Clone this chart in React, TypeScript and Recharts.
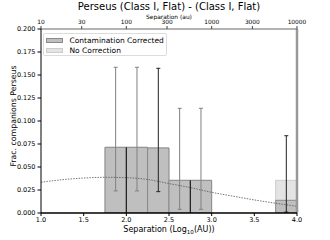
import React from 'react';
import { ComposedChart, Bar, Line, XAxis, YAxis, ErrorBar, ReferenceLine, Label } from 'recharts';

// histogram bins (log10 separation), bin width 0.25
const binCenters = [1.875, 2.125, 2.375, 2.625, 2.875, 3.875];
const fracCorrected = [0.0714, 0.0714, 0.0707, 0.0355, 0.0355, 0.0138];
const fracNoCorrection = [0.0714, 0.0714, 0.0707, 0.0355, 0.0355, 0.0355];
const errLow = [0.024, 0.024, 0.0232, 0.004, 0.004, 0.001];
const errHigh = [0.1584, 0.1584, 0.1573, 0.1138, 0.1138, 0.084];
const errIsDark = [false, false, true, false, false, true];

// dotted reference curve
const curveX = [1.0, 1.25, 1.5, 1.75, 2.0, 2.25, 2.5, 2.75, 3.0, 3.25, 3.5, 3.75, 4.0];
const curveY = [0.0334, 0.0362, 0.038, 0.0388, 0.0384, 0.0364, 0.032, 0.0276, 0.0225, 0.0183, 0.0142, 0.0106, 0.0072];

// dark bar edges
const edgeX = [2.0, 2.75];
const edgeTop = [0.0714, 0.0355];

const bottomTicks = [1.0, 1.5, 2.0, 2.5, 3.0, 3.5, 4.0];
const yTicks = [0, 0.025, 0.05, 0.075, 0.1, 0.125, 0.15, 0.175, 0.2];
const topTickLabels = [10, 30, 100, 300, 1000, 3000, 10000];

const FONT = '"DejaVu Sans", sans-serif';

const histData = binCenters.map((x, i) => ({
  x,
  v: fracCorrected[i],
  nc: fracNoCorrection[i],
  errGrey: errIsDark[i] ? null : [fracCorrected[i] - errLow[i], errHigh[i] - fracCorrected[i]],
  errDark: errIsDark[i] ? [fracCorrected[i] - errLow[i], errHigh[i] - fracCorrected[i]] : null,
}));
const curveData = curveX.map((x, i) => ({ x, y: curveY[i] }));
const topTicks = topTickLabels.map((t) => Math.log10(t));

const XLabel = (props: any) => {
  const vb = props.viewBox;
  const cx = vb.x + vb.width / 2;
  return (
    <text x={cx} y={vb.y + 18.5} textAnchor="middle" fontSize={8} fontFamily={FONT} fill="#000">
      Separation (Log
      <tspan fontSize={5.6} dy={2}>10</tspan>
      <tspan dy={-2}>(AU))</tspan>
    </text>
  );
};

const YLabel = (props: any) => {
  const vb = props.viewBox;
  const cx = 13;
  const cy = vb.y + vb.height / 2 - 5;
  return (
    <text x={cx} y={cy} transform={`rotate(-90 ${cx} ${cy})`} textAnchor="middle" dominantBaseline="central"
      fontSize={7.8} fontFamily={FONT} fill="#000">
      Frac. companions Perseus
    </text>
  );
};

const TopLabel = (props: any) => {
  const vb = props.viewBox;
  const cx = vb.x + vb.width / 2;
  return (
    <g>
      <text x={cx} y={10.3} textAnchor="middle" fontSize={10} fontFamily={FONT} fill="#000">
        Perseus (Class I, Flat) - (Class I, Flat)
      </text>
      <text x={cx} y={18.5} textAnchor="middle" fontSize={5.9} fontFamily={FONT} fill="#000">
        Separation (au)
      </text>
    </g>
  );
};

const LegendBox = () => (
  <div style={{
    position: 'absolute', left: 42.5, top: 32.5, width: 124, height: 23,
    border: '1px solid #dcdcdc', borderRadius: 2, background: 'rgba(255,255,255,0.85)',
    boxSizing: 'border-box', fontFamily: FONT, fontSize: 7.5, color: '#000',
  }}>
    {[
      { name: 'Contamination Corrected', fill: '#bfbfbf', stroke: '#8a8a8a' },
      { name: 'No Correction', fill: '#e4e4e4', stroke: '#cccccc' },
    ].map((it, i) => (
      <div key={it.name} style={{ position: 'absolute', left: 2.5, top: 2 + i * 10.4, height: 9, display: 'flex', alignItems: 'center' }}>
        <div style={{ width: 17, height: 5, background: it.fill, border: `1px solid ${it.stroke}`, boxSizing: 'border-box' }} />
        <span style={{ marginLeft: 6.5, whiteSpace: 'nowrap', lineHeight: '9px' }}>{it.name}</span>
      </div>
    ))}
  </div>
);

const App = () => (
  <div style={{ position: 'absolute', left: 0, top: 0, width: 330, height: 240, background: '#fff' }}>
    <ComposedChart width={330} height={240} data={histData} margin={{ top: 0, right: 33, bottom: 0, left: 0 }}
      barGap={0} barCategoryGap={0}>
      <XAxis xAxisId="main" dataKey="x" type="number" domain={[1, 4]} ticks={bottomTicks} allowDataOverflow
        height={27} tickSize={3} tickMargin={1} interval={0}
        tickFormatter={(v: number) => v.toFixed(1)}
        tick={{ fontSize: 6.5, fontFamily: FONT, fill: '#000' }}
        axisLine={{ stroke: '#000', strokeWidth: 1.6 }} tickLine={{ stroke: '#000' }}>
        <Label content={XLabel} />
      </XAxis>
      <XAxis xAxisId="top" orientation="top" dataKey="x" type="number" domain={[1, 4]} ticks={topTicks} allowDataOverflow
        height={29} tickSize={3} tickMargin={2} interval={0}
        tickFormatter={(v: number) => String(Math.round(Math.pow(10, v)))}
        tick={{ fontSize: 5.9, fontFamily: FONT, fill: '#000' }}
        axisLine={{ stroke: '#666' }} tickLine={{ stroke: '#444' }}>
        <Label content={TopLabel} />
      </XAxis>
      <XAxis xAxisId="curve" dataKey="x" type="number" domain={[1, 4]} hide height={0} allowDataOverflow />
      <YAxis type="number" domain={[0, 0.2]} ticks={yTicks} allowDataOverflow width={41}
        tickSize={3.5} tickMargin={2} interval={0}
        tickFormatter={(v: number) => v.toFixed(3)}
        tick={{ fontSize: 6.5, fontFamily: FONT, fill: '#000' }}
        axisLine={{ stroke: '#000' }} tickLine={{ stroke: '#000' }}>
        <Label content={YLabel} />
      </YAxis>

      <Bar xAxisId="top" dataKey="nc" barSize={21.3} fill="#e4e4e4" stroke="#cccccc" strokeWidth={1}
        isAnimationActive={false} />
      <Bar xAxisId="main" dataKey="v" barSize={21.3} fill="#bfbfbf" stroke="#8a8a8a" strokeWidth={1}
        isAnimationActive={false}>
        <ErrorBar dataKey="errGrey" direction="y" width={2} stroke="#808080" strokeWidth={1} isAnimationActive={false} />
        <ErrorBar dataKey="errDark" direction="y" width={2} stroke="#222" strokeWidth={1} isAnimationActive={false} />
      </Bar>

      {edgeX.map((x, i) => (
        <ReferenceLine key={x} xAxisId="main" segment={[{ x, y: 0 }, { x, y: edgeTop[i] }]} stroke="#111" strokeWidth={1} />
      ))}

      <Line xAxisId="curve" data={curveData} dataKey="y" type="monotone" dot={false} stroke="#555"
        strokeWidth={0.8} strokeDasharray="1.5 1.2" isAnimationActive={false} />

      <ReferenceLine xAxisId="main" x={4} stroke="#999" strokeWidth={2.5} />
    </ComposedChart>
    <LegendBox />
  </div>
);

export default App;
